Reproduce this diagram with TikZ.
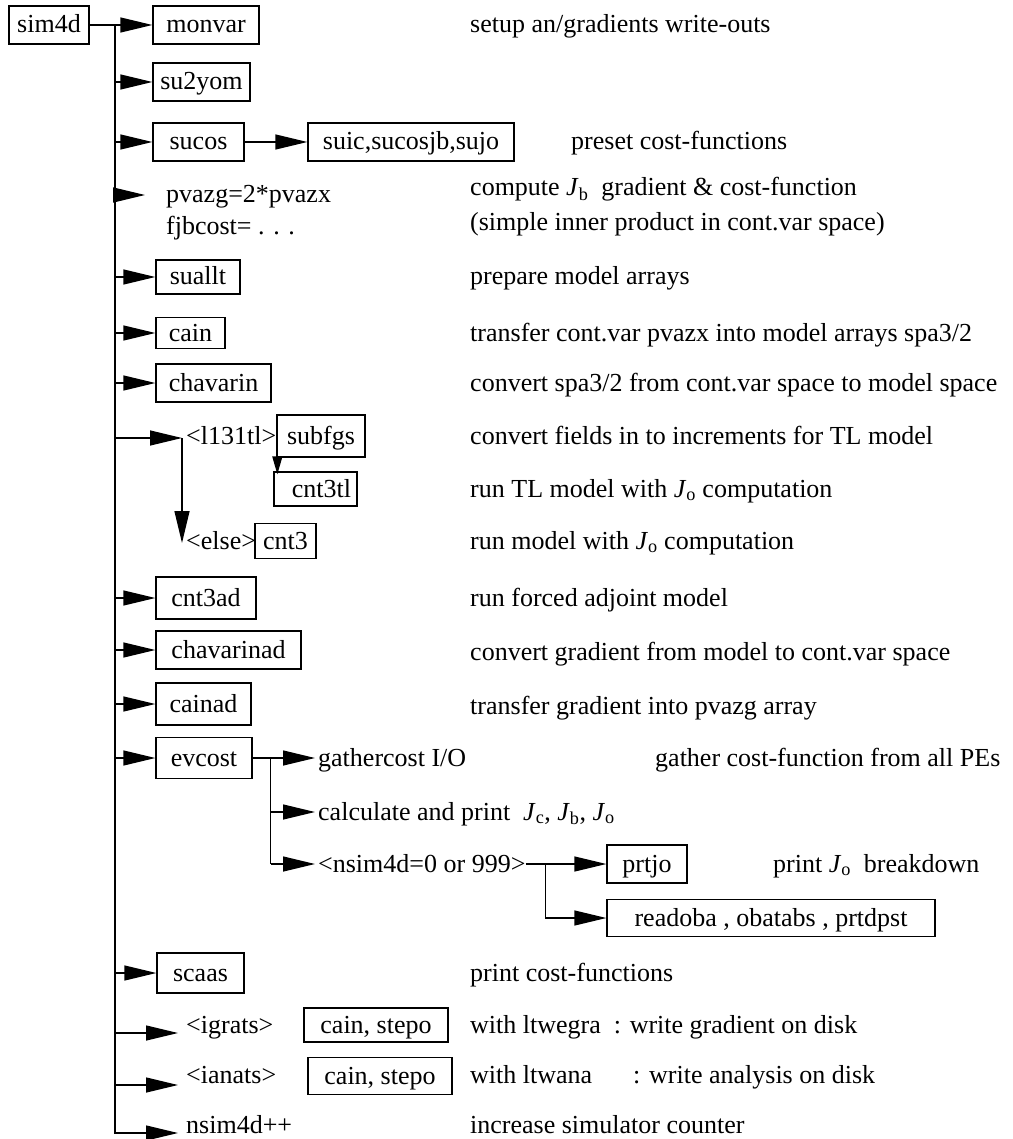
\documentclass[tikz,border=0pt]{standalone}
\usepackage{fontspec}
\setmainfont{Liberation Serif}
\usetikzlibrary{arrows.meta}
\newcommand{\Jsub}[1]{\textit{J}\textsubscript{#1}}

\begin{document}
\begin{tikzpicture}[x=1pt,y=-1pt,
    font=\fontsize{26}{31}\selectfont,
    every node/.style={inner sep=0pt,text height=20pt,text depth=4pt},
    box/.style={draw,line width=1.3pt,minimum height=38pt,inner xsep=6pt},
    txt/.style={anchor=west},
    ln/.style={line width=1.3pt},
    arr/.style={ln,-{Triangle[length=32pt,width=15pt]}},
    totxt/.style={arr,shorten >=8pt},
    smallarr/.style={ln,-{Triangle[length=18pt,width=10pt]}}]
\useasboundingbox (0,0) rectangle (1012,1139);

% called routines
\begin{scope}[every node/.append style={box}]
    \node[minimum width=80pt]  (sim4d)    at (49,25)   {sim4d};
    \node[minimum width=106pt] (monvar)   at (206,25)  {monvar};
    \node[minimum width=97pt]  (su2yom)   at (201.5,82) {su2yom};
    \node[minimum width=91pt]  (sucos)    at (198.5,142) {sucos};
    \node[minimum width=206pt] (suic)     at (411,142) {suic,sucosjb,sujo};
    \node[minimum width=84pt,minimum height=34pt]  (suallt) at (198,277) {suallt};
    \node[minimum width=69pt,minimum height=31pt]  (cain)   at (190.5,333) {cain};
    \node[minimum width=115pt] (chavarin) at (213.5,383) {chavarin};
    \node[minimum width=88pt,minimum height=42pt]  (subfgs) at (321,436) {subfgs};
    \node[minimum width=83pt,minimum height=34pt,text width=71pt,align=right] (cnt3tl) at (315.5,489) {cnt3tl};
    \node[minimum width=61pt,minimum height=35pt]  (cnt3)   at (285.5,541) {cnt3};
    \node[minimum width=100pt,minimum height=42pt] (cnt3ad) at (206,598) {cnt3ad};
    \node[minimum width=145pt] (chavarinad) at (228.5,650) {chavarinad};
    \node[minimum width=95pt,minimum height=42pt]  (cainad) at (203.5,704) {cainad};
    \node[minimum width=96pt,minimum height=41pt]  (evcost) at (204,758) {evcost};
    \node[minimum width=80pt]  (prtjo)    at (647,864) {prtjo};
    \node[minimum width=328pt,minimum height=37pt] (readoba) at (771,918) {readoba , obatabs , prtdpst};
    \node[minimum width=87pt,minimum height=40pt]  (scaas)  at (200.5,973) {scaas};
    \node[minimum width=144pt,minimum height=34pt] (stepa)  at (376,1025) {cain, stepo};
    \node[minimum width=144pt,minimum height=37pt] (stepb)  at (380,1076) {cain, stepo};
\end{scope}

% conditions and statements
\begin{scope}[every node/.append style={txt}]
    \node (pvazg)   at (166,195)  {pvazg=2*pvazx};
    \node (fjbcost) at (166,227)  {fjbcost= . . .};
    \node (l131tl)  at (186,436)  {<l131tl>};
    \node (else)    at (186,541)  {<else>};
    \node (gather)  at (318,758)  {gathercost I/O};
    \node (calc)    at (318,812)  {calculate and print\ \ \Jsub{c}, \Jsub{b}, \Jsub{o}};
    \node (nsimtxt) at (318,864)  {<nsim4d=0 or 999>};
    \node (igrats)  at (186,1025) {<igrats>};
    \node (ianats)  at (186,1075) {<ianats>};
    \node (nsimpp)  at (186,1125) {nsim4d++};
\end{scope}

% comments
\begin{scope}[every node/.append style={txt}]
    \node (c-monvar)  at (470,25)   {setup an/gradients write-outs};
    \node (c-sucos)   at (571,142)  {preset cost-functions};
    \node (c-jb)      at (470,188)  {compute \Jsub{b}\ \ gradient \& cost-function};
    \node (c-inner)   at (470,223)  {(simple inner product in cont.var space)};
    \node (c-suallt)  at (470,277)  {prepare model arrays};
    \node (c-cain)    at (470,333)  {transfer cont.var pvazx into model arrays spa3/2};
    \node (c-chav)    at (470,383)  {convert spa3/2 from cont.var space to model space};
    \node (c-subfgs)  at (470,436)  {convert fields in to increments for TL model};
    \node (c-cnt3tl)  at (470,489)  {run TL model with \Jsub{o}\ computation};
    \node (c-cnt3)    at (470,541)  {run model with \Jsub{o}\ computation};
    \node (c-cnt3ad)  at (470,598)  {run forced adjoint model};
    \node (c-chavad)  at (470,652)  {convert gradient from model to cont.var space};
    \node (c-cainad)  at (470,706)  {transfer gradient into pvazg array};
    \node (c-gather)  at (655,758)  {gather cost-function from all PEs};
    \node (c-prtjo)   at (773,864)  {print \Jsub{o}\ \ breakdown};
    \node (c-scaas)   at (470,973)  {print cost-functions};
    \node (c-igrats)  at (470,1025) {with ltwegra\hspace{13pt}: write gradient on disk};
    \node (c-ianats)  at (470,1075) {with ltwana\hspace{41pt}: write analysis on disk};
    \node (c-nsimpp)  at (470,1125) {increase simulator counter};
\end{scope}

\coordinate (trunk) at (115,25);
\coordinate (split) at ([xshift=-4pt]l131tl.west);
\coordinate (evj)   at ([xshift=18pt]evcost.east);
\coordinate (nj)    at ([xshift=20pt]nsimtxt.east);

\draw[ln] (sim4d) -- (trunk);
\draw[arr] (trunk) |- ([xshift=-8pt]nsimpp.base west);
\draw[arr] (trunk) -- (monvar);
\draw[arr] (trunk |- su2yom) -- (su2yom);
\draw[arr] (trunk |- sucos) -- (sucos);
\draw[arr] (sucos) -- (suic);
\draw[totxt,shorten >=21pt] (trunk |- pvazg) -- (pvazg.west);
\draw[arr] (trunk |- suallt) -- (suallt);
\draw[arr] (trunk |- cain) -- (cain);
\draw[arr] (trunk |- chavarin) -- (chavarin);
\draw[arr] ([yshift=-2pt]trunk |- split) -- ([yshift=-2pt]split);
\draw[arr] ([yshift=-2pt]split) -- ([yshift=-2pt]split |- else.west);
\draw[smallarr] ([xshift=1pt]subfgs.south west) -- ([xshift=1pt,yshift=-3pt]subfgs.south west |- cnt3tl.north);
\draw[arr] (trunk |- cnt3ad) -- (cnt3ad);
\draw[arr] (trunk |- chavarinad) -- (chavarinad);
\draw[arr] (trunk |- cainad) -- (cainad);
\draw[arr] (trunk |- evcost) -- (evcost);
\draw[ln] (evcost) -- (evj) -- (evj |- nsimtxt);
\draw[totxt,shorten >=3pt] (evj) -- (gather.west);
\draw[totxt,shorten >=3pt] (evj |- calc) -- (calc.west);
\draw[totxt,shorten >=3pt] (evj |- nsimtxt) -- (nsimtxt.west);
\draw[arr] (nsimtxt.east) -- (prtjo);
\draw[arr] (nj) |- (readoba);
\draw[arr] (trunk |- scaas) -- (scaas);
\draw[totxt] (trunk |- igrats.base) -- (igrats.base west);
\draw[totxt] ([yshift=-2pt]trunk |- ianats.base) -- ([yshift=-2pt]ianats.base west);
\end{tikzpicture}
\end{document}
